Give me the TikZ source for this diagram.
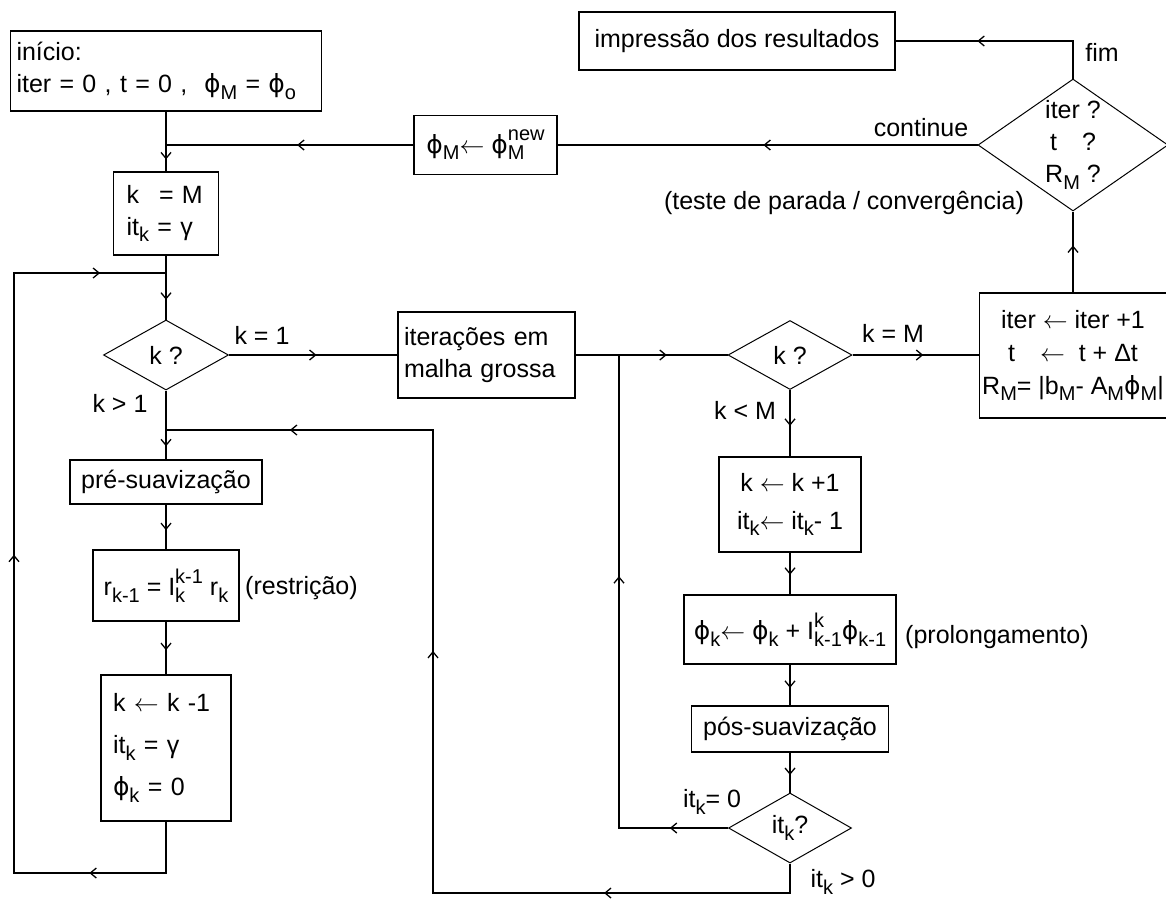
\documentclass[tikz,border=0pt]{standalone}
\usepackage{fontspec}
\setmainfont{Liberation Sans}
\newfontfamily\phifont{DejaVu Sans}
\usetikzlibrary{arrows.meta,shapes.geometric,decorations.markings}

\newcommand\lowtx[1]{\raisebox{-0.5ex}{\fontsize{20}{20}\selectfont #1}}
\newcommand\hightx[1]{\raisebox{0.95ex}{\fontsize{20}{20}\selectfont #1}}
\newcommand\sub[1]{\lowtx{#1}}
\newcommand\both[2]{\rlap{\lowtx{#1}}\hightx{#2}}
\newcommand\bothl[2]{\rlap{\hightx{#2}}\lowtx{#1}}
\newcommand\lar{$\leftarrow$}
\newcommand\fy{{\phifont ϕ}}

\begin{document}
\begin{tikzpicture}[
                x=1pt,
                y=-1pt,
                box/.style={
                    draw,
                    line width=1.3pt,
                    inner sep=2pt,
                    font=\fontsize{25}{32}\selectfont
                },
                dia/.style={
                    diamond,
                    draw,
                    line width=1pt,
                    inner sep=0pt,
                    font=\fontsize{25}{32}\selectfont
                },
                txt/.style={
                    inner sep=0pt,
                    font=\fontsize{25}{32}\selectfont
                },
                flow/.style={
                    line width=1.3pt
                },
                tipa/.tip={Straight Barb[length=6pt,width=10pt]},
                mid/.style={
                    postaction={decorate,decoration={markings,mark=at position #1 with {\arrow{tipa}}}}
                }
            ]

                \useasboundingbox (0,0) rectangle (1166,898);

                % left column
                \node[box, text width=299pt, inner xsep=6pt, minimum height=80pt, align=left] (inicio) at (166,71) {\mbox{início:}\\\mbox{iter = 0 ,\ t = 0 ,\ \ \fy\sub{M} = \fy\sub{o}}};
                \node[box, text width=79pt, inner xsep=13pt, minimum height=83pt, align=left] (kM) at (166,213.5) {\mbox{k\hspace{20pt}= M}\\\mbox{it\sub{k} = γ}};
                \node[dia, minimum width=125pt, minimum height=70pt] (kq) at (166,355) {k ?};
                \node[box, minimum width=192pt, minimum height=44pt] (pre) at (166,482) {pré-suavização};
                \node[box, minimum width=146pt, minimum height=71pt] (restr) at (166,585.5) {r\sub{k-1} = I\both{k}{k-1} r\sub{k}};
                \node[box, text width=106pt, inner xsep=12pt, minimum height=146pt, align=left] (kdec) at (166,748) {\mbox{k \lar\ k -1}\\[10pt]\mbox{it\sub{k} = γ}\\[10pt]\mbox{\fy\sub{k} = 0}};

                % middle and right columns
                \node[box, text width=165pt, inner xsep=6pt, minimum height=86pt, align=left] (iterc) at (486.5,355) {\mbox{iterações em}\\\mbox{malha grossa}};
                \node[dia, minimum width=124pt, minimum height=69pt] (kq2) at (790,355) {k ?};
                \node[box, minimum width=142pt, minimum height=95pt, align=center] (kinc) at (790,504.5) {k \lar\ k +1\\[6pt]it\sub{k}\lar\ it\sub{k}- 1};
                \node[box, minimum width=212pt, minimum height=69pt] (prol) at (790,629.5) {\fy\sub{k}\lar\ \fy\sub{k} + I\bothl{k-1}{k}\fy\sub{k-1}};
                \node[box, minimum width=197pt, minimum height=46pt] (pos) at (790,729) {pós-suavização};
                \node[dia, minimum width=123pt, minimum height=70pt] (itq) at (790,828) {it\sub{k}?};

                \node[box, minimum width=187pt, minimum height=125pt, align=center, font=\fontsize{25}{33}\selectfont] (upd) at (1073,355.5) {iter \lar\ iter +1\\t\quad\lar\ \ t + Δt\\R\sub{M}= |b\sub{M}- A\sub{M}\fy\sub{M}|};
                \node[dia, minimum width=190pt, minimum height=132pt,
                    label={[txt, align=center]center:{iter ?\\t\quad ?\\R\sub{M} ?}}] (stop) at (1073,145) {};
                \node[box, minimum width=143pt, minimum height=59pt] (phiM) at (485.5,145) {\fy\sub{M}\lar\ \fy\both{M}{new}};
                \node[box, minimum width=316pt, minimum height=58pt] (impr) at (737,41) {impressão dos resultados};

                \coordinate (lp1) at (14,873);
                \coordinate (lp2) at (14,273);
                \coordinate (jk) at (166,273);
                \coordinate (lp3) at (433,893);
                \coordinate (lp4) at (433,430);
                \coordinate (jpre) at (166,430);
                \coordinate (jmid) at (619,355);

                \draw[flow, mid=0.8] (inicio) -- (kM);
                \draw[flow, mid=0.47] (phiM) -- (phiM -| inicio);
                \draw[flow, mid=0.69] (kM) -- (kq);
                \draw[flow, mid=0.81] (kq) -- (pre);
                \draw[flow, mid=0.57] (pre) -- (restr);
                \draw[flow, mid=0.54] (restr) -- (kdec);
                \draw[flow, mid=0.134, mid=0.546, mid=0.931] (kdec.south) |- (lp1) -- (lp2) -- (jk);

                \draw[flow, mid=0.52] (kq.east) -- (kq.east -| iterc.west);
                \draw[flow, mid=0.6] (iterc.east) -- (kq2.west);
                \draw[flow, mid=0.56] (kq2.east) -- (kq2.east -| upd.west);
                \draw[flow, mid=0.54] (kq2) -- (kinc);
                \draw[flow, mid=0.53] (kinc) -- (prol);
                \draw[flow, mid=0.57] (prol) -- (pos);
                \draw[flow, mid=0.56] (pos) -- (itq);
                \draw[flow, mid=0.1, mid=0.62] (itq.west) -| (jmid);
                \draw[flow, mid=0.193, mid=0.563, mid=0.889] (itq.south) |- (lp3) -- (lp4) -- (jpre);

                \draw[flow, mid=0.58] (upd) -- (stop);
                \draw[flow, mid=0.62] (stop.north) |- (impr.east);
                \draw[flow, mid=0.51] (stop.west) -- (phiM.east);

                \node[txt] (lk1) at (262,335) {k = 1};
                \node[txt] (lkg) at (120,403) {k > 1};
                \node[txt, anchor=west] (lres) at (245,588) {(restrição)};
                \node[txt] (lkM) at (893,333) {k = M};
                \node[txt] (lkl) at (745,410) {k < M};
                \node[txt, anchor=west] (lprol) at (905,637) {(prolongamento)};
                \node[txt] (lit0) at (712,802) {it\sub{k}= 0};
                \node[txt] (litg) at (843,882) {it\sub{k} > 0};
                \node[txt] (lfim) at (1102,52) {fim};
                \node[txt] (lcont) at (921,128) {continue};
                \node[txt] (lteste) at (844,203) {(teste de parada / convergência)};

            \end{tikzpicture}
\end{document}
